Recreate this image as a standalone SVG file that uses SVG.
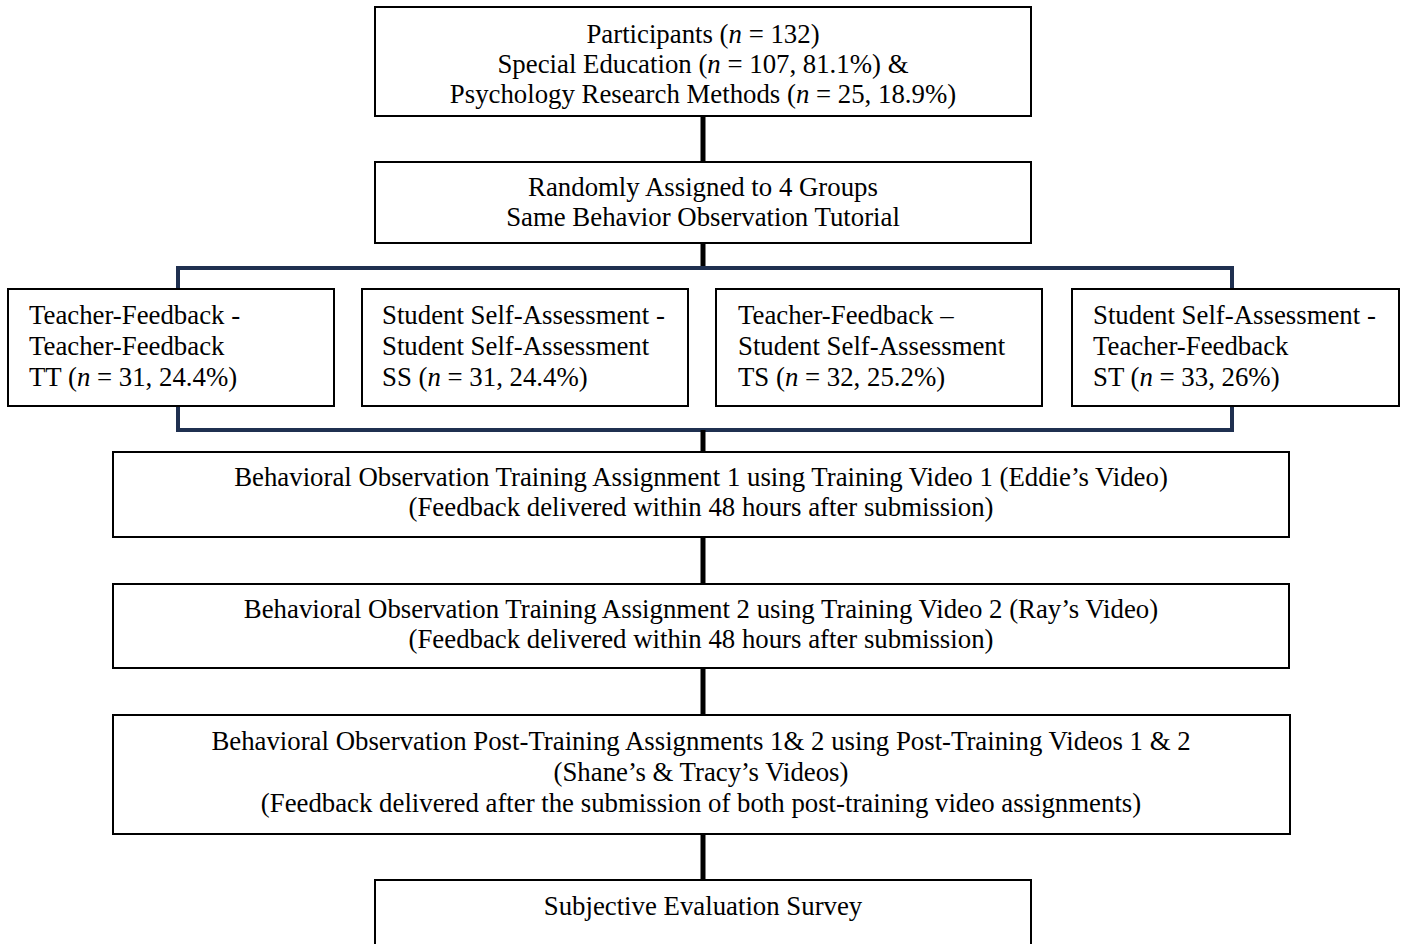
<svg xmlns="http://www.w3.org/2000/svg" width="1403" height="944" viewBox="0 0 1403 944">
<style>
.box{fill:#fff;stroke:#000;stroke-width:2}
.t{font-family:"Liberation Serif","Times New Roman",serif;font-size:26.8px;fill:#000}
.c{text-anchor:middle}
.conn{stroke:#000;stroke-width:5;fill:none}
.brk{stroke:#1f3050;stroke-width:4;fill:none}
</style>
<rect width="1403" height="944" fill="#fff"/>
<g id="connectors">
<line class="conn" x1="703" y1="116" x2="703" y2="162"/>
<line class="conn" x1="703" y1="243" x2="703" y2="268"/>
<rect class="brk" x="178" y="268" width="1054" height="162"/>
<line class="conn" x1="703" y1="430" x2="703" y2="452"/>
<line class="conn" x1="703" y1="537" x2="703" y2="584"/>
<line class="conn" x1="703" y1="668" x2="703" y2="715"/>
<line class="conn" x1="703" y1="834" x2="703" y2="880"/>
</g>
<g id="participants">
<rect class="box" x="375" y="7" width="656" height="109"/>
<text class="t c" x="703" y="43">Participants (<tspan font-style="italic">n</tspan> = 132)</text>
<text class="t c" x="703" y="73">Special Education (<tspan font-style="italic">n</tspan> = 107, 81.1%) &amp;</text>
<text class="t c" x="703" y="103">Psychology Research Methods (<tspan font-style="italic">n</tspan> = 25, 18.9%)</text>
</g>
<g id="randomly">
<rect class="box" x="375" y="162" width="656" height="81"/>
<text class="t c" x="703" y="196">Randomly Assigned to 4 Groups</text>
<text class="t c" x="703" y="226">Same Behavior Observation Tutorial</text>
</g>
<g id="tt">
<rect class="box" x="8" y="289" width="326" height="117"/>
<text class="t" x="29" y="324">Teacher-Feedback -</text>
<text class="t" x="29" y="355">Teacher-Feedback</text>
<text class="t" x="29" y="386">TT (<tspan font-style="italic">n</tspan> = 31, 24.4%)</text>
</g>
<g id="ss">
<rect class="box" x="362" y="289" width="326" height="117"/>
<text class="t" x="382" y="324">Student Self-Assessment -</text>
<text class="t" x="382" y="355">Student Self-Assessment</text>
<text class="t" x="382" y="386">SS (<tspan font-style="italic">n</tspan> = 31, 24.4%)</text>
</g>
<g id="ts">
<rect class="box" x="716" y="289" width="326" height="117"/>
<text class="t" x="738" y="324">Teacher-Feedback –</text>
<text class="t" x="738" y="355">Student Self-Assessment</text>
<text class="t" x="738" y="386">TS (<tspan font-style="italic">n</tspan> = 32, 25.2%)</text>
</g>
<g id="st">
<rect class="box" x="1072" y="289" width="327" height="117"/>
<text class="t" x="1093" y="324">Student Self-Assessment -</text>
<text class="t" x="1093" y="355">Teacher-Feedback</text>
<text class="t" x="1093" y="386">ST (<tspan font-style="italic">n</tspan> = 33, 26%)</text>
</g>
<g id="training1">
<rect class="box" x="113" y="452" width="1176" height="85"/>
<text class="t c" x="701" y="486">Behavioral Observation Training Assignment 1 using Training Video 1 (Eddie’s Video)</text>
<text class="t c" x="701" y="516">(Feedback delivered within 48 hours after submission)</text>
</g>
<g id="training2">
<rect class="box" x="113" y="584" width="1176" height="84"/>
<text class="t c" x="701" y="618">Behavioral Observation Training Assignment 2 using Training Video 2 (Ray’s Video)</text>
<text class="t c" x="701" y="648">(Feedback delivered within 48 hours after submission)</text>
</g>
<g id="posttraining">
<rect class="box" x="113" y="715" width="1177" height="119"/>
<text class="t c" x="701" y="750">Behavioral Observation Post-Training Assignments 1&amp; 2 using Post-Training Videos 1 &amp; 2</text>
<text class="t c" x="701" y="781">(Shane’s &amp; Tracy’s Videos)</text>
<text class="t c" x="701" y="812">(Feedback delivered after the submission of both post-training video assignments)</text>
</g>
<g id="survey">
<rect class="box" x="375" y="880" width="656" height="70"/>
<text class="t c" x="703" y="915">Subjective Evaluation Survey</text>
</g>
</svg>
